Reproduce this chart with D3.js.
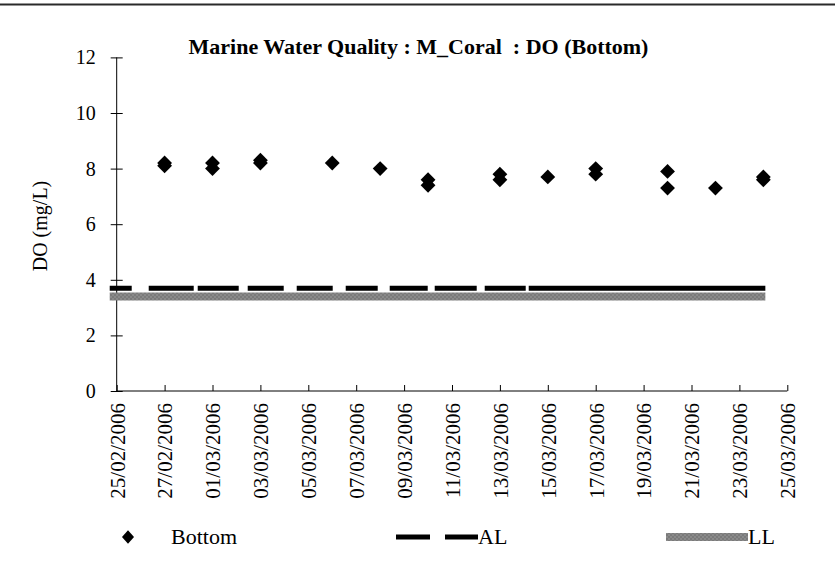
<!DOCTYPE html>
<html>
<head>
<meta charset="utf-8">
<script src="https://cdn.jsdelivr.net/npm/d3@7"></script>
<style>
  html, body { margin: 0; padding: 0; background: #fff; }
  svg, svg text { font-family: "Liberation Serif", "DejaVu Serif", serif !important; }
</style>
</head>
<body>
<svg id="chart" width="835" height="564"></svg>
<script>
// ---- data ----
const chartTitle = "Marine Water Quality : M_Coral  : DO (Bottom)";
const yTitle = "DO (mg/L)";
const sampleDates = ["2006-02-27","2006-02-27","2006-03-01","2006-03-01","2006-03-03","2006-03-03",
  "2006-03-06","2006-03-08","2006-03-10","2006-03-10","2006-03-13","2006-03-13","2006-03-15",
  "2006-03-17","2006-03-17","2006-03-20","2006-03-20","2006-03-22","2006-03-24","2006-03-24"];
const bottomDO = [8.2,8.1,8.2,8.0,8.3,8.2,8.2,8.0,7.6,7.4,7.8,7.6,7.7,8.0,7.8,7.9,7.3,7.3,7.7,7.6];
const limitDates = ["2006-02-24T17:00:00Z","2006-03-24T02:00:00Z"];
const alValue = 3.7;
const llValue = 3.4;
const yTicks = [0,2,4,6,8,10,12];
const xDomain = ["2006-02-25","2006-03-25"];
const legendLabels = ["Bottom","AL","LL"];

// ---- chart ----
const svg = d3.select("#chart");
const parse = s => new Date(s.length === 10 ? s + "T00:00:00Z" : s);
const FONT = "'Liberation Serif', serif";

const x = d3.scaleUtc().domain(xDomain.map(parse)).range([116.7, 787.3]);
const y = d3.scaleLinear().domain([0, 12]).range([391, 57.4]);

// top frame line
svg.append("line").attr("x1", 0).attr("x2", 835).attr("y1", 4.5).attr("y2", 4.5)
  .attr("stroke", "#2a2a2a").attr("stroke-width", 2);

// checker pattern for LL
const defs = svg.append("defs");
const pat = defs.append("pattern").attr("id", "checker").attr("width", 4).attr("height", 4)
  .attr("patternUnits", "userSpaceOnUse");
pat.append("rect").attr("width", 4).attr("height", 4).attr("fill", "#8a8a8a");
pat.append("rect").attr("width", 2).attr("height", 2).attr("fill", "#7a7a7a");
pat.append("rect").attr("x", 2).attr("y", 2).attr("width", 2).attr("height", 2).attr("fill", "#7a7a7a");

// title
svg.append("text").attr("x", 418.5).attr("y", 54).attr("text-anchor", "middle")
  .style("font-family", FONT).style("white-space", "pre").attr("font-weight", "bold").attr("font-size", 22)
  .attr("fill", "#000").text(chartTitle);

// y axis
const yAxis = svg.append("g").attr("transform", `translate(${x.range()[0]},0)`)
  .call(d3.axisLeft(y).tickValues(yTicks).tickSize(6).tickFormat(d3.format("d")));
yAxis.attr("font-family", null);
yAxis.select(".domain").attr("d", `M0,${y(12)}V${y(0)}`).attr("stroke", "#000");
yAxis.selectAll(".tick line").attr("x1", -6).attr("x2", 6).attr("stroke", "#000");
yAxis.selectAll(".tick text").attr("x", -21).attr("font-size", 20)
  .style("font-family", FONT).attr("fill", "#000");

// x axis
const xTickVals = d3.utcDay.range(parse(xDomain[0]), d3.utcDay.offset(parse(xDomain[1]), 1), 2);
const xAxis = svg.append("g").attr("transform", `translate(0,${y(0)})`)
  .call(d3.axisBottom(x).tickValues(xTickVals).tickSize(-6).tickFormat(d3.utcFormat("%d/%m/%Y")));
xAxis.attr("font-family", null);
xAxis.select(".domain").attr("d", `M${x.range()[0]},0H${x.range()[1]}`).attr("stroke", "#000");
xAxis.selectAll(".tick line").attr("stroke", "#000");
xAxis.selectAll(".tick text")
  .attr("transform", "rotate(-90)").attr("text-anchor", "end")
  .attr("x", -12).attr("y", 0).attr("dy", "0.35em")
  .attr("font-size", 21).style("font-family", FONT).attr("fill", "#000");

// y title
svg.append("text").attr("transform", "translate(47,226) rotate(-90)")
  .attr("text-anchor", "middle").attr("font-size", 20).style("font-family", FONT)
  .attr("fill", "#000").text(yTitle);

// LL line
const line = d3.line().x(d => x(parse(d[0]))).y(d => y(d[1]));
svg.append("path").datum(limitDates.map(d => [d, llValue]))
  .attr("d", line).attr("fill", "none").attr("stroke", "url(#checker)").attr("stroke-width", 8);

// AL line
const alDash = "22,17,45,4,41,9,36,13,36,13,32,12,38,7,42,8,41,3,400";
svg.append("path").datum(limitDates.map(d => [d, alValue]))
  .attr("d", line).attr("fill", "none").attr("stroke", "#000").attr("stroke-width", 5)
  .attr("stroke-dasharray", alDash);

// points
const diamond = d3.symbol(d3.symbolSquare, 110);
svg.append("g").selectAll("path").data(sampleDates.map((d, i) => [d, bottomDO[i]]))
  .join("path")
  .attr("d", diamond)
  .attr("transform", d => `translate(${x(parse(d[0]))},${y(d[1])}) rotate(45)`)
  .attr("fill", "#000");

// legend
const lg = svg.append("g");
lg.append("path").attr("d", d3.symbol(d3.symbolSquare, 90))
  .attr("transform", "translate(128,537) scale(0.9,1) rotate(45)").attr("fill", "#000");
lg.append("text").attr("x", 171).attr("y", 544).attr("font-size", 22).style("font-family", FONT).text(legendLabels[0]);
lg.append("line").attr("x1", 396).attr("x2", 478).attr("y1", 537).attr("y2", 537)
  .attr("stroke", "#000").attr("stroke-width", 5).attr("stroke-dasharray", "34,15,40");
lg.append("text").attr("x", 478).attr("y", 544).attr("font-size", 22).style("font-family", FONT).text(legendLabels[1]);
lg.append("line").attr("x1", 666).attr("x2", 748).attr("y1", 537).attr("y2", 537)
  .attr("stroke", "url(#checker)").attr("stroke-width", 8);
lg.append("text").attr("x", 748).attr("y", 544).attr("font-size", 22).style("font-family", FONT).text(legendLabels[2]);
</script>
</body>
</html>
